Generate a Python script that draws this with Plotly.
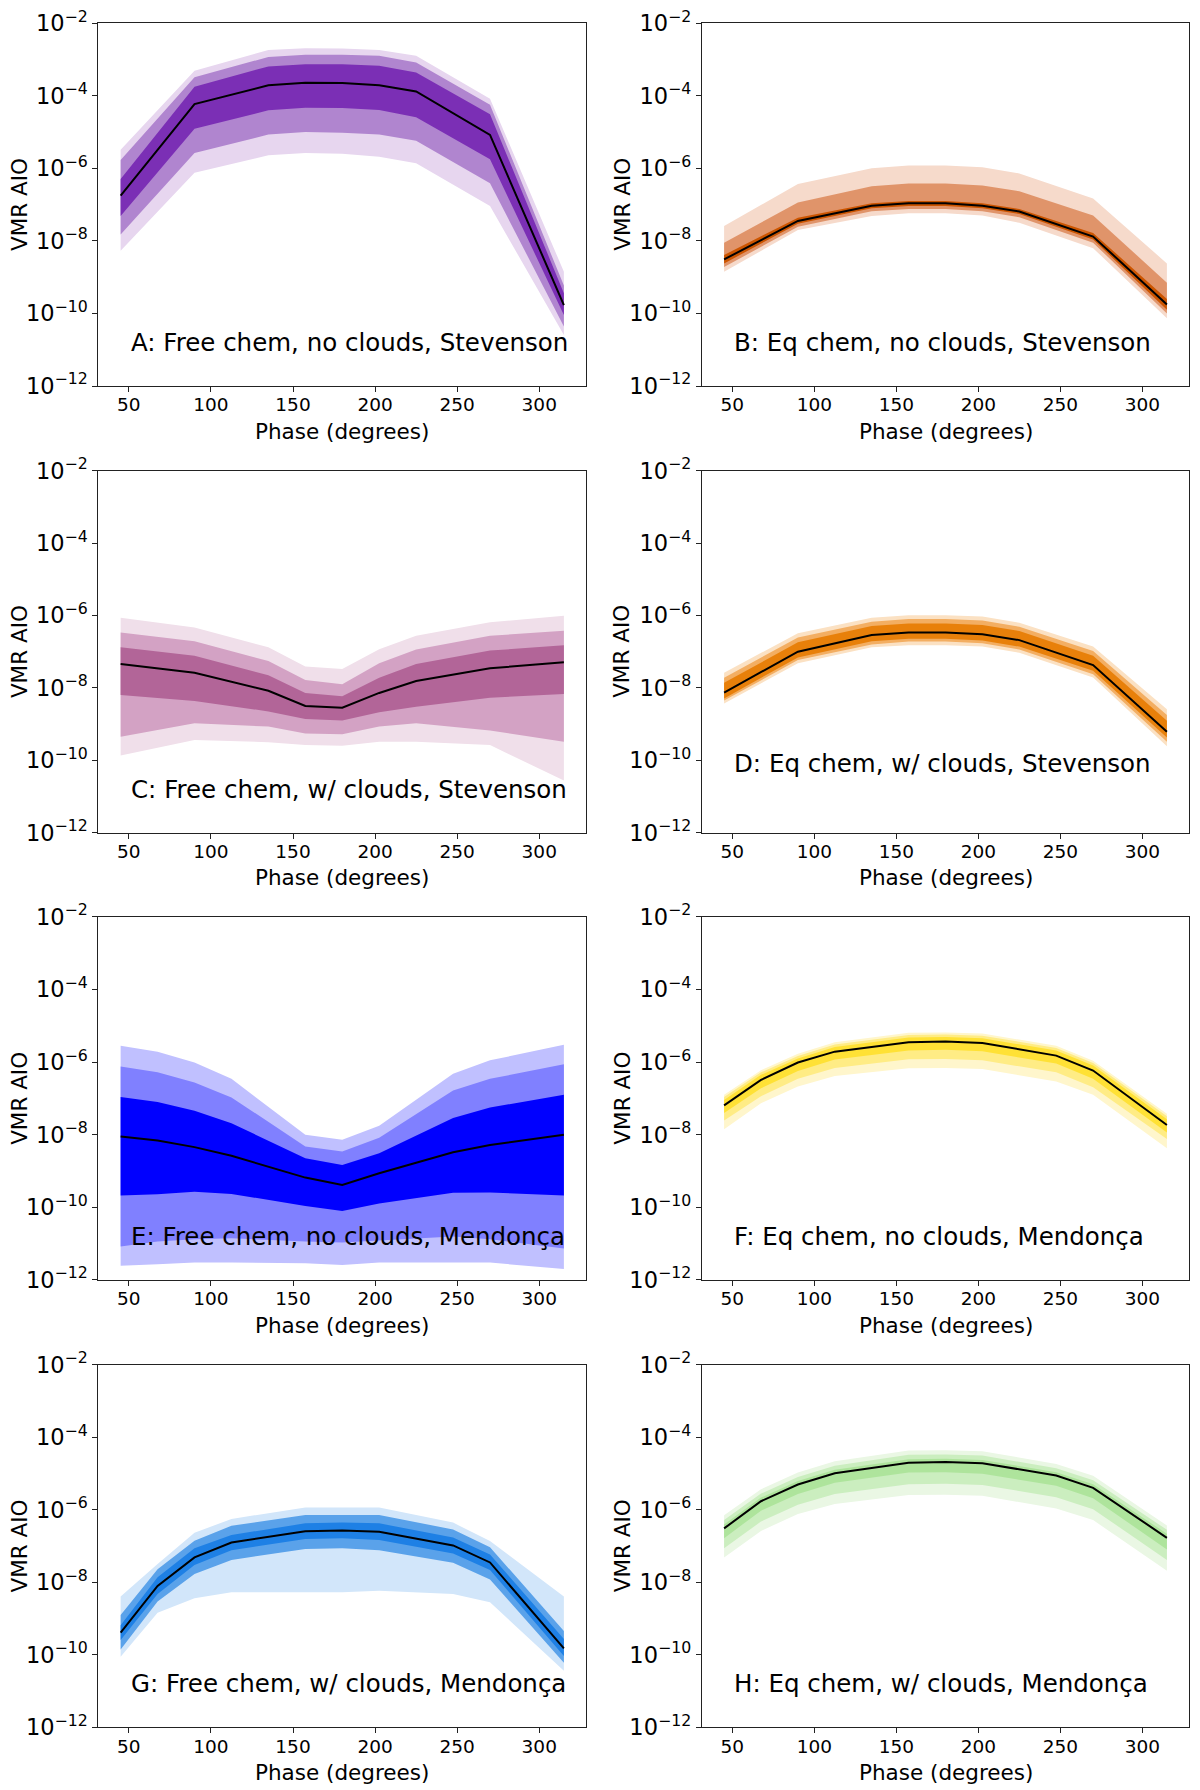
import numpy as np
import plotly.graph_objects as go
from plotly.subplots import make_subplots

# ── Phase grids ────────────────────────────────────────
phase_stev = [45, 90, 135, 157.5, 180, 202.5, 225, 270, 315]
phase_mend = [45, 67.5, 90, 112.5, 157.5, 180, 202.5, 247.5, 270, 315]

# ── log10 VMR: median and 1/2/3-sigma bounds per panel ─
a_med = [-6.75, -4.23, -3.71, -3.64, -3.65, -3.71, -3.88, -5.08, -9.77]
a_1hi = [-6.29, -3.75, -3.19, -3.13, -3.13, -3.17, -3.36, -4.51, -9.44]
a_1lo = [-7.31, -4.91, -4.40, -4.33, -4.34, -4.39, -4.59, -5.75, -10.04]
a_2hi = [-5.77, -3.49, -2.93, -2.87, -2.87, -2.90, -3.08, -4.25, -9.23]
a_2lo = [-7.82, -5.58, -5.07, -5.00, -5.02, -5.07, -5.24, -6.41, -10.36]
a_3hi = [-5.49, -3.31, -2.74, -2.69, -2.70, -2.74, -2.90, -4.08, -8.85]
a_3lo = [-8.27, -6.12, -5.64, -5.58, -5.60, -5.68, -5.86, -7.04, -10.59]

b_med = [-8.51, -7.45, -7.03, -6.96, -6.96, -7.03, -7.19, -7.88, -9.75]
b_1hi = [-8.39, -7.36, -6.96, -6.90, -6.90, -6.96, -7.12, -7.78, -9.60]
b_1lo = [-8.62, -7.53, -7.10, -7.04, -7.04, -7.10, -7.26, -7.96, -9.90]
b_2hi = [-8.05, -6.94, -6.49, -6.42, -6.42, -6.47, -6.63, -7.30, -9.15]
b_2lo = [-8.72, -7.61, -7.18, -7.12, -7.12, -7.18, -7.35, -8.05, -10.00]
b_3hi = [-7.59, -6.43, -6.00, -5.92, -5.92, -5.97, -6.14, -6.83, -8.62]
b_3lo = [-8.85, -7.70, -7.31, -7.24, -7.24, -7.30, -7.50, -8.20, -10.13]

c_med = [-7.34, -7.58, -8.08, -8.50, -8.55, -8.14, -7.81, -7.46, -7.29]
c_1hi = [-6.88, -7.11, -7.65, -8.14, -8.23, -7.72, -7.34, -6.97, -6.82]
c_1lo = [-8.20, -8.36, -8.65, -8.86, -8.90, -8.67, -8.52, -8.27, -8.17]
c_2hi = [-6.47, -6.71, -7.26, -7.78, -7.90, -7.32, -6.94, -6.56, -6.42]
c_2lo = [-9.35, -8.98, -9.07, -9.26, -9.28, -9.07, -8.98, -9.18, -9.49]
c_3hi = [-6.06, -6.33, -6.88, -7.41, -7.48, -6.93, -6.56, -6.19, -6.01]
c_3lo = [-9.87, -9.44, -9.50, -9.58, -9.60, -9.49, -9.49, -9.58, -10.56]

d_med = [-8.13, -7.00, -6.54, -6.47, -6.47, -6.52, -6.68, -7.37, -9.21]
d_1hi = [-7.86, -6.74, -6.29, -6.22, -6.22, -6.26, -6.43, -7.11, -8.91]
d_1lo = [-8.29, -7.16, -6.71, -6.64, -6.64, -6.69, -6.86, -7.53, -9.37]
d_2hi = [-7.72, -6.61, -6.17, -6.10, -6.10, -6.14, -6.31, -6.98, -8.75]
d_2lo = [-8.35, -7.23, -6.80, -6.72, -6.72, -6.77, -6.94, -7.62, -9.49]
d_3hi = [-7.58, -6.49, -6.06, -5.99, -5.99, -6.03, -6.20, -6.86, -8.59]
d_3lo = [-8.43, -7.32, -6.88, -6.82, -6.82, -6.86, -7.03, -7.71, -9.61]

e_med = [-8.05, -8.16, -8.34, -8.58, -9.18, -9.38, -9.06, -8.48, -8.28, -8.00]
e_1hi = [-6.96, -7.10, -7.34, -7.68, -8.65, -8.83, -8.51, -7.54, -7.25, -6.90]
e_1lo = [-9.67, -9.64, -9.57, -9.63, -9.96, -10.10, -9.89, -9.60, -9.59, -9.67]
e_2hi = [-6.12, -6.28, -6.56, -6.97, -8.32, -8.46, -8.08, -6.78, -6.46, -6.06]
e_2lo = [-11.08, -10.94, -10.88, -10.85, -10.94, -10.97, -10.90, -10.80, -10.88, -11.13]
e_3hi = [-5.55, -5.71, -6.01, -6.46, -8.00, -8.14, -7.75, -6.32, -5.95, -5.52]
e_3lo = [-11.61, -11.57, -11.52, -11.52, -11.54, -11.59, -11.52, -11.52, -11.52, -11.70]

f_med = [-7.19, -6.49, -6.01, -5.71, -5.45, -5.43, -5.47, -5.82, -6.23, -7.73]
f_1hi = [-7.04, -6.35, -5.90, -5.58, -5.32, -5.31, -5.34, -5.68, -6.09, -7.57]
f_1lo = [-7.40, -6.72, -6.24, -5.93, -5.68, -5.66, -5.70, -6.04, -6.46, -7.94]
f_2hi = [-6.96, -6.28, -5.83, -5.51, -5.25, -5.24, -5.27, -5.61, -6.02, -7.49]
f_2lo = [-7.61, -6.94, -6.46, -6.16, -5.92, -5.91, -5.95, -6.28, -6.69, -8.12]
f_3hi = [-6.90, -6.22, -5.77, -5.45, -5.19, -5.18, -5.21, -5.55, -5.96, -7.42]
f_3lo = [-7.85, -7.13, -6.67, -6.38, -6.17, -6.16, -6.19, -6.53, -6.90, -8.37]

g_med = [-9.39, -8.10, -7.31, -6.90, -6.59, -6.57, -6.60, -6.98, -7.45, -9.82]
g_1hi = [-9.18, -7.86, -7.06, -6.69, -6.37, -6.35, -6.37, -6.76, -7.23, -9.56]
g_1lo = [-9.59, -8.32, -7.52, -7.11, -6.80, -6.78, -6.83, -7.20, -7.66, -10.03]
g_2hi = [-8.90, -7.64, -6.85, -6.44, -6.14, -6.14, -6.14, -6.54, -7.03, -9.34]
g_2lo = [-9.85, -8.53, -7.77, -7.38, -7.08, -7.06, -7.11, -7.46, -7.92, -10.22]
g_3hi = [-8.39, -7.49, -6.63, -6.25, -5.93, -5.93, -5.93, -6.35, -6.86, -8.39]
g_3lo = [-10.05, -8.84, -8.44, -8.27, -8.27, -8.27, -8.23, -8.32, -8.55, -10.44]

h_med = [-6.51, -5.76, -5.30, -4.99, -4.70, -4.68, -4.71, -5.05, -5.39, -6.77]
h_1hi = [-6.40, -5.66, -5.20, -4.89, -4.60, -4.59, -4.62, -4.96, -5.29, -6.66]
h_1lo = [-6.78, -6.02, -5.56, -5.25, -4.97, -4.96, -5.00, -5.33, -5.68, -7.09]
h_2hi = [-6.28, -5.55, -5.09, -4.78, -4.48, -4.47, -4.50, -4.85, -5.18, -6.55]
h_2lo = [-7.06, -6.32, -5.86, -5.56, -5.29, -5.28, -5.31, -5.65, -5.98, -7.38]
h_3hi = [-6.15, -5.43, -4.97, -4.66, -4.36, -4.35, -4.38, -4.73, -5.06, -6.43]
h_3lo = [-7.31, -6.58, -6.11, -5.84, -5.59, -5.58, -5.61, -5.96, -6.28, -7.68]

labels = [
    "A: Free chem, no clouds, Stevenson", "B: Eq chem, no clouds, Stevenson",
    "C: Free chem, w/ clouds, Stevenson", "D: Eq chem, w/ clouds, Stevenson",
    "E: Free chem, no clouds, Mendonça", "F: Eq chem, no clouds, Mendonça",
    "G: Free chem, w/ clouds, Mendonça", "H: Eq chem, w/ clouds, Mendonça",
]

# (dark, medium, light) band colours
colors = [
    ("#7B2FB5", "#B085CF", "#E7D6EF"),
    ("#CC5500", "#E0946A", "#F6DACB"),
    ("#B26598", "#D3A2C4", "#F0DFEA"),
    ("#E8800A", "#F3AE62", "#FBE1C3"),
    ("#0000FF", "#8080FF", "#C0C0FF"),
    ("#FFE135", "#FFEC85", "#FFF6CC"),
    ("#1E80E5", "#5AA2EA", "#D2E6FA"),
    ("#AEE49C", "#CBEEBF", "#EAF7E4"),
]

panels = [
    (phase_stev, a_med, a_1hi, a_1lo, a_2hi, a_2lo, a_3hi, a_3lo),
    (phase_stev, b_med, b_1hi, b_1lo, b_2hi, b_2lo, b_3hi, b_3lo),
    (phase_stev, c_med, c_1hi, c_1lo, c_2hi, c_2lo, c_3hi, c_3lo),
    (phase_stev, d_med, d_1hi, d_1lo, d_2hi, d_2lo, d_3hi, d_3lo),
    (phase_mend, e_med, e_1hi, e_1lo, e_2hi, e_2lo, e_3hi, e_3lo),
    (phase_mend, f_med, f_1hi, f_1lo, f_2hi, f_2lo, f_3hi, f_3lo),
    (phase_mend, g_med, g_1hi, g_1lo, g_2hi, g_2lo, g_3hi, g_3lo),
    (phase_mend, h_med, h_1hi, h_1lo, h_2hi, h_2lo, h_3hi, h_3lo),
]

label_y = [-10.8, -10.8, -10.8, -10.1, -10.8, -10.8, -10.8, -10.8]

FONT = "DejaVu Sans"
fig = make_subplots(rows=4, cols=2)

# panel domains (page body has an 8px margin, compensated here)
x_dom = [[0.0754, 0.4817], [0.5783, 0.9842]]
y_dom = [[0.7888, 0.9915], [0.5393, 0.7415], [0.2894, 0.4922], [0.0395, 0.2419]]
ytitle_x = [0.0095, 0.5118]


def band(x, hi, lo, col, r, c):
    xs = list(x) + list(x)[::-1]
    ys = list(10.0 ** np.array(hi)) + list(10.0 ** np.array(lo))[::-1]
    fig.add_trace(go.Scatter(x=xs, y=ys, fill="toself", fillcolor=col,
                             mode="lines", line=dict(width=0), hoverinfo="skip",
                             showlegend=False), row=r, col=c)


for i, (ph, med, s1h, s1l, s2h, s2l, s3h, s3l) in enumerate(panels):
    r, c = i // 2 + 1, i % 2 + 1
    dark, mid, light = colors[i]
    band(ph, s3h, s3l, light, r, c)
    band(ph, s2h, s2l, mid, r, c)
    band(ph, s1h, s1l, dark, r, c)
    fig.add_trace(go.Scatter(x=ph, y=10.0 ** np.array(med), mode="lines",
                             line=dict(color="black", width=2), showlegend=False),
                  row=r, col=c)

    common = dict(ticks="outside", ticklen=5, tickcolor="#222",
                  showline=True, linecolor="#222", linewidth=1.2, mirror=True,
                  showgrid=False, zeroline=False, automargin=False,
                  ticklabeloverflow="allow")
    fig.update_xaxes(domain=x_dom[c - 1], range=[31.5, 328.5], ticklabelstandoff=-3,
                     tickvals=[50, 100, 150, 200, 250, 300],
                     tickfont=dict(family=FONT, size=18.5, color="black"),
                     row=r, col=c, **common)
    fig.update_yaxes(domain=y_dom[r - 1], type="log", range=[-12, -2], dtick=2,
                     ticklabelstandoff=1, exponentformat="power",
                     tickfont=dict(family=FONT, size=18, color="black"),
                     row=r, col=c, **common)

    axn = "" if i == 0 else str(i + 1)
    fig.add_annotation(x=50, y=label_y[i], xref="x" + axn, yref="y" + axn,
                       text=labels[i], showarrow=False, xanchor="left", yanchor="middle",
                       font=dict(family=FONT, size=24.5, color="black"))

    # axis titles
    y0, y1 = y_dom[r - 1]
    fig.add_annotation(x=ytitle_x[c - 1], y=(y0 + y1) / 2, xref="paper", yref="paper",
                       text="VMR AIO", textangle=-90, showarrow=False,
                       xanchor="center", yanchor="middle",
                       font=dict(family=FONT, size=21.5, color="black"))
    fig.add_annotation(x=sum(x_dom[c - 1]) / 2, y=y0 - 0.0252, xref="paper", yref="paper",
                       text="Phase (degrees)", showarrow=False,
                       xanchor="center", yanchor="middle",
                       font=dict(family=FONT, size=21.5, color="black"))

fig.update_layout(width=1200, height=1790, margin=dict(l=0, r=0, t=0, b=0),
                  plot_bgcolor="white", paper_bgcolor="white",
                  font=dict(family=FONT))
fig.write_html("out.html")
